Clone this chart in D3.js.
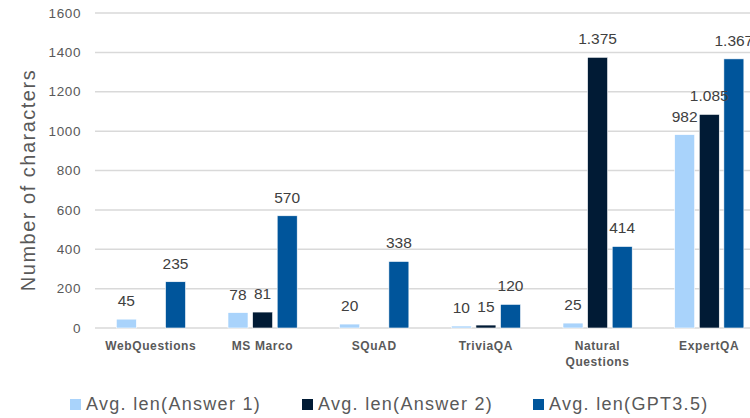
<!DOCTYPE html>
<html>
<head>
<meta charset="utf-8">
<script src="https://cdn.jsdelivr.net/npm/d3@7"></script>
<style>
  html, body { margin: 0; padding: 0; background: #fff; }
  svg { display: block; font-family: Arial, "Liberation Sans", sans-serif; }
</style>
</head>
<body>
<svg id="chart" width="750" height="418"></svg>
<script>
const categories = ["WebQuestions", "MS Marco", "SQuAD", "TriviaQA", "Natural Questions", "ExpertQA"];
const seriesNames = ["Avg. len(Answer 1)", "Avg. len(Answer 2)", "Avg. len(GPT3.5)"];
const answer1 = [45, 78, 20, 10, 25, 982];
const answer2 = [null, 81, null, 15, 1375, 1085];
const gpt35 = [235, 570, 338, 120, 414, 1367];
const yTicks = [0, 200, 400, 600, 800, 1000, 1200, 1400, 1600];
const colors = ["#A9D3FB", "#011B35", "#00559B"];
const seriesValues = [answer1, answer2, gpt35];

const svg = d3.select("#chart");
const locale = d3.formatLocale({decimal: ",", thousands: ".", grouping: [3], currency: ["", ""]});
const fmt = locale.format(",d");

const x = d3.scaleBand().domain(categories).range([95, 765]).paddingInner(0).paddingOuter(0);
const xs = d3.scaleBand().domain(seriesNames).range([-34.5, 34.7]).paddingInner(0.187).paddingOuter(0);
const y = d3.scaleLinear().domain([0, 1600]).range([328, 13]);

// gridlines
svg.append("g").selectAll("line").data(yTicks).join("line")
  .attr("x1", 95).attr("x2", 765)
  .attr("y1", d => y(d)).attr("y2", d => y(d))
  .attr("stroke", "#D9D9D9").attr("stroke-width", 1.5);

// y tick labels
svg.append("g").selectAll("text").data(yTicks).join("text")
  .attr("x", 81).attr("y", d => y(d)).attr("dy", "0.35em")
  .attr("text-anchor", "end")
  .attr("fill", "#595959").style("font-size", "13.5px").style("letter-spacing", "0.6px")
  .text(d => d);

// y axis title
svg.append("text")
  .attr("transform", "translate(35,180) rotate(-90)")
  .attr("text-anchor", "middle")
  .attr("fill", "#595959").style("font-size", "20px").style("letter-spacing", "1.5px")
  .text("Number of characters");

// bars
const flat = [];
categories.forEach((c, i) => {
  seriesNames.forEach((s, j) => {
    const v = seriesValues[j][i];
    if (v !== null) flat.push({c, s, v, j});
  });
});

svg.append("g").selectAll("rect").data(flat).join("rect")
  .attr("x", d => x(d.c) + x.bandwidth() / 2 + xs(d.s))
  .attr("width", xs.bandwidth())
  .attr("y", d => y(d.v))
  .attr("height", d => y(0) - y(d.v))
  .attr("fill", d => colors[d.j])
  .attr("stroke", "#ffffff").attr("stroke-width", 0.6);

// value labels
svg.append("g").selectAll("text").data(flat).join("text")
  .attr("x", d => x(d.c) + x.bandwidth() / 2 + xs(d.s) + xs.bandwidth() / 2)
  .attr("y", d => y(d.v) - 13)
  .attr("text-anchor", "middle")
  .attr("fill", "#404040").style("font-size", "15.5px")
  .text(d => fmt(d.v));

// x labels
const xl = svg.append("g").selectAll("text").data(categories).join("text")
  .attr("x", d => x(d) + x.bandwidth() / 2)
  .attr("y", 350)
  .attr("text-anchor", "middle")
  .attr("fill", "#595959").style("font-size", "12px").style("font-weight", "bold").style("letter-spacing", "0.6px");
xl.each(function(d) {
  const t = d3.select(this);
  if (d === "Natural Questions") {
    t.append("tspan").attr("x", x(d) + x.bandwidth() / 2).attr("dy", 0).text("Natural");
    t.append("tspan").attr("x", x(d) + x.bandwidth() / 2).attr("dy", 16).text("Questions");
  } else {
    t.text(d);
  }
});

// legend
const legendX = [70, 302, 533];
const lg = svg.append("g").selectAll("g").data(seriesNames).join("g")
  .attr("transform", (d, i) => `translate(${legendX[i]},399)`);
lg.append("rect").attr("width", 11).attr("height", 11).attr("fill", (d, i) => colors[i]);
lg.append("text").attr("x", 16).attr("y", 11)
  .attr("fill", "#595959").style("font-size", "18px").style("letter-spacing", "1.3px")
  .text(d => d);
</script>
</body>
</html>
